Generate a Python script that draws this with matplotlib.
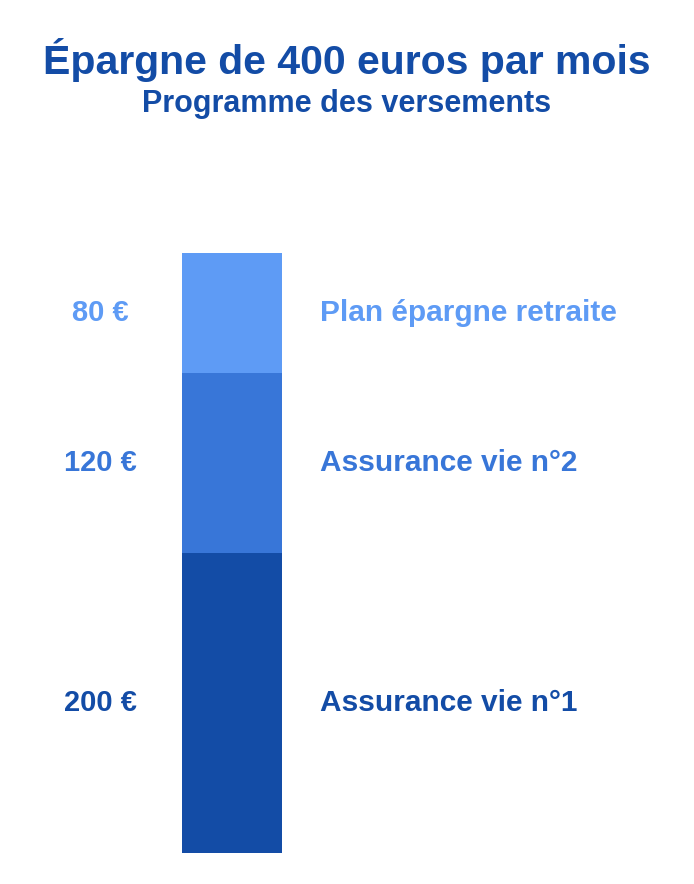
import matplotlib
matplotlib.use("Agg")
import matplotlib.pyplot as plt

categories = ["Assurance vie n°1", "Assurance vie n°2", "Plan épargne retraite"]
amounts = [200, 120, 80]
amount_labels = ["200 €", "120 €", "80 €"]
colors = ["#134ca6", "#3876d8", "#5e9bf5"]

plt.rcParams["font.family"] = "Liberation Sans"
fig = plt.figure(figsize=(6.94, 8.84), dpi=100)
fig.text(0.5, 1 - 60/884, "Épargne de 400 euros par mois", ha="center", va="center",
         fontsize=29.5, fontweight="bold", color="#134ca6")
fig.text(0.5, 1 - 104/884, "Programme des versements", ha="center", va="center",
         fontsize=22, fontweight="bold", color="#134ca6")

ax = fig.add_axes([0, 31/884, 1, 659/884])
ax.set_xlim(0, 694)
ax.set_ylim(0, 439.3)
ax.axis("off")
bottom = 0
for cat, a, lab, c in zip(categories, amounts, amount_labels, colors):
    ax.bar(232, a, width=100, bottom=bottom, color=c)
    mid = bottom + a / 2
    ax.text(100, mid, lab, ha="center", va="center", fontsize=21, fontweight="bold", color=c)
    ax.text(320, mid, cat, ha="left", va="center", fontsize=21.5, fontweight="bold", color=c)
    bottom += a

fig.savefig("out.png", dpi=100)
